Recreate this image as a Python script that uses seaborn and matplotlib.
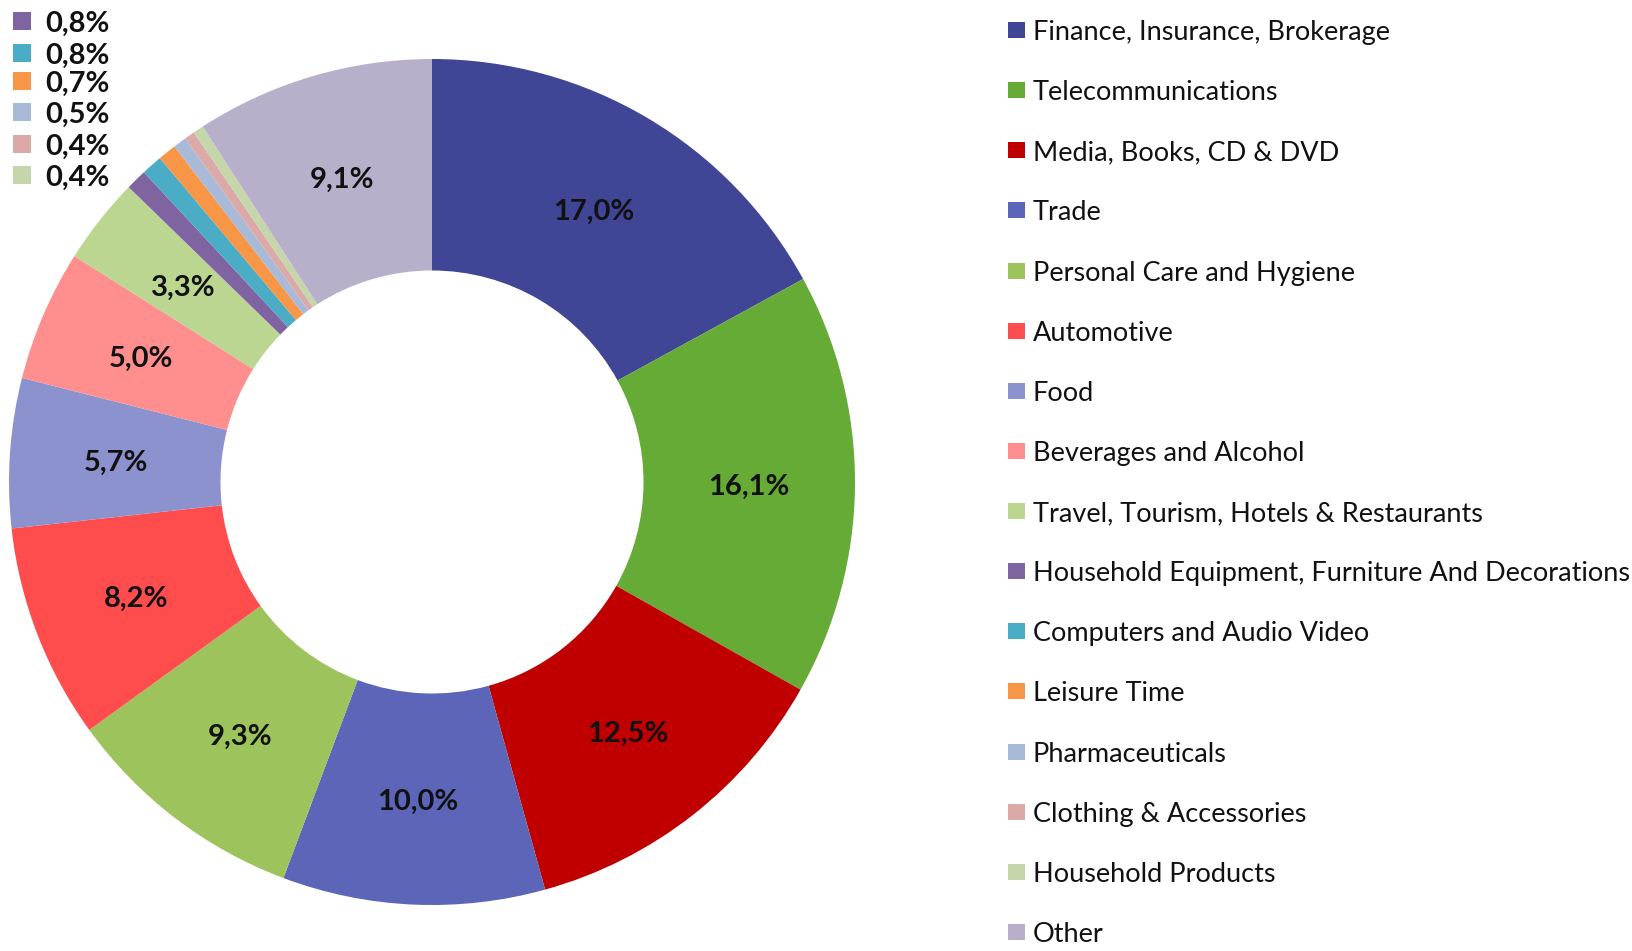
import numpy as np
import matplotlib
matplotlib.use("Agg")
import matplotlib.pyplot as plt
from matplotlib.patches import Rectangle
import seaborn as sns

categories = [
    "Finance, Insurance, Brokerage", "Telecommunications", "Media, Books, CD & DVD",
    "Trade", "Personal Care and Hygiene", "Automotive", "Food", "Beverages and Alcohol",
    "Travel, Tourism, Hotels & Restaurants", "Household Equipment, Furniture And Decorations",
    "Computers and Audio Video", "Leisure Time", "Pharmaceuticals", "Clothing & Accessories",
    "Household Products", "Other",
]
values = [17.0, 16.1, 12.5, 10.0, 9.3, 8.2, 5.7, 5.0, 3.3, 0.8, 0.8, 0.7, 0.5, 0.4, 0.4, 9.1]
colors = ["#404595", "#67AB37", "#C00000", "#5D65B9", "#9DC35D", "#FF4D4D", "#8C92CE",
          "#FF8F8F", "#BAD690", "#8064A2", "#4BACC6", "#F79646", "#A9B9D8", "#DCA9A9",
          "#C4D6AA", "#B8AFCA"]

sns.set_theme(style="white")
plt.rcParams["font.family"] = ["Lato", "DejaVu Sans"]
palette = sns.color_palette(colors)

W, H = 1633, 951
fig = plt.figure(figsize=(W / 100, H / 100), dpi=100)
fig.patch.set_facecolor("white")

cx, cy, R = 432, 482, 423
ax = fig.add_axes([(cx - R) / W, (H - cy - R) / H, 2 * R / W, 2 * R / H])
wedges, _ = ax.pie(values, colors=palette, startangle=90, counterclock=False,
                   radius=1.0, wedgeprops=dict(width=0.5, linewidth=0))
ax.set_xlim(-1, 1)
ax.set_ylim(-1, 1)
ax.axis("off")

def fmt(v):
    return f"{v:.1f}".replace(".", ",") + "%"

for w, v in zip(wedges, values):
    if v < 1:
        continue
    ang = np.deg2rad((w.theta1 + w.theta2) / 2)
    r = 0.75
    ax.text(r * np.cos(ang), r * np.sin(ang), fmt(v), ha="center", va="center_baseline",
            fontsize=21, fontweight="bold", color="#111111")

# small-slice labels, top-left
small_rows = [21, 53, 81, 112, 144, 175]
small_idx = [i for i, v in enumerate(values) if v < 1]
for y, i in zip(small_rows, small_idx):
    fig.patches.append(Rectangle((13 / W, (H - y - 9) / H), 18 / W, 18 / H,
                                 transform=fig.transFigure, color=palette[i], lw=0))
    fig.text(45 / W, (H - y) / H, fmt(values[i]), ha="left", va="center_baseline",
             fontsize=21, fontweight="bold", color="#111111")

# legend, right
y0, dy = 30, 60.13
for k, (lab, c) in enumerate(zip(categories, palette)):
    y = y0 + k * dy
    fig.patches.append(Rectangle((1008 / W, (H - y - 8) / H), 17 / W, 16 / H,
                                 transform=fig.transFigure, color=c, lw=0))
    fig.text(1033 / W, (H - y) / H, lab, ha="left", va="center_baseline",
             fontsize=19.5, color="#111111")

fig.savefig("out.png", dpi=100, facecolor="white")
